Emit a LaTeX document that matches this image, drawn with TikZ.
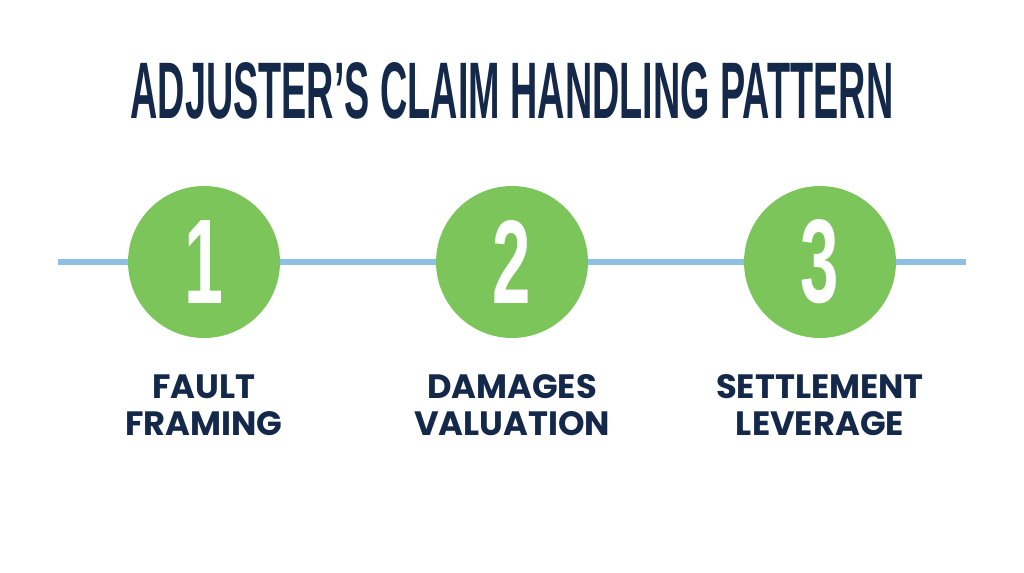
\documentclass[tikz,border=0pt]{standalone}
\usepackage{fontspec}
\usepackage{graphicx}
\setmainfont{Liberation Sans}
\newfontfamily\labelfont{Poppins}

\definecolor{navy}{HTML}{14284A}
\definecolor{stepgreen}{HTML}{7CC55B}
\definecolor{linkblue}{HTML}{8DC0E2}

\tikzset{
  stepdot/.style={circle, fill=stepgreen, minimum size=3.04cm, inner sep=0pt, text=white},
  steplabel/.style={anchor=north, align=center, inner sep=0pt, text=navy,
    font=\labelfont\bfseries\fontsize{19.2}{21.2}\selectfont},
  link/.style={linkblue, line width=3pt}
}

\newcommand{\stepnum}[1]{\scalebox{0.58}[1]{\resizebox{!}{1.66cm}{\bfseries #1}}}

\begin{document}
\begin{tikzpicture}[x=0.02cm, y=-0.02cm]

    % Page frame (pixel grid of the reference)
    \useasboundingbox (0,0) rectangle (1024,572);

    % Title
    \node[anchor=base, inner sep=0pt, text=navy] (title) at (512,118)
      {\resizebox{15.26cm}{1.12cm}{\bfseries ADJUSTER’S CLAIM HANDLING PATTERN}};

    % Ends of the timeline
    \coordinate (lineL) at (58,262);
    \coordinate (lineR) at (966,262);

    % The three steps
    \node[stepdot] (s1) at (204,262) {\stepnum{1}};
    \node[stepdot] (s2) at (512,262) {\stepnum{2}};
    \node[stepdot] (s3) at (820,262) {\stepnum{3}};

    % Timeline segments between the steps
    \draw[link] (lineL) -- (s1);
    \draw[link] (s1) -- (s2);
    \draw[link] (s2) -- (s3);
    \draw[link] (s3) -- (lineR);

    % Step names
    \node[steplabel] (t1) at (204,374) {FAULT\\FRAMING};
    \node[steplabel] (t2) at (512,374) {DAMAGES\\VALUATION};
    \node[steplabel] (t3) at (820,374) {SETTLEMENT\\LEVERAGE};

\end{tikzpicture}
\end{document}
